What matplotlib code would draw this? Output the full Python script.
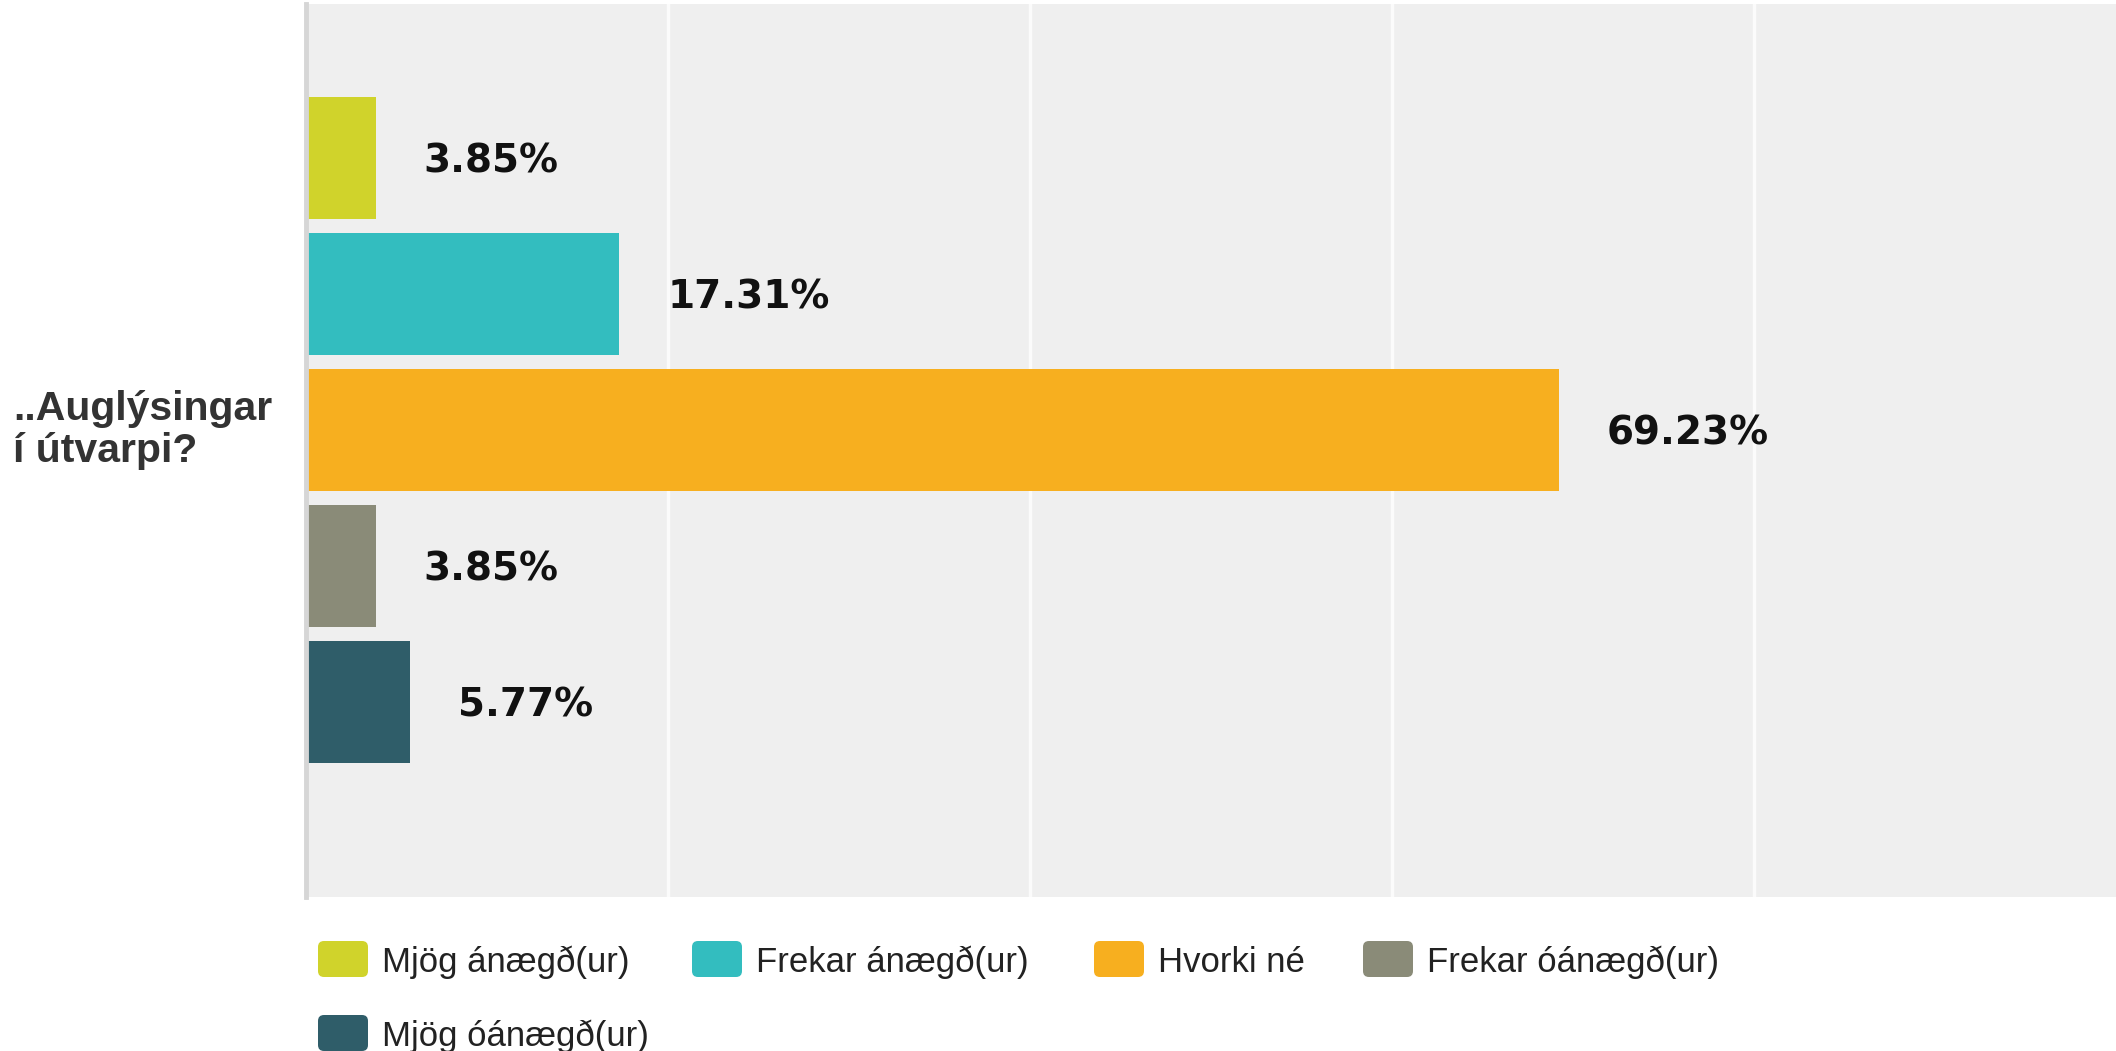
import matplotlib
matplotlib.use("Agg")
import matplotlib.pyplot as plt
from matplotlib.patches import FancyBboxPatch

# ---- data ----
question = "..Auglýsingar\ní útvarpi?"
answers = ["Mjög ánægð(ur)", "Frekar ánægð(ur)", "Hvorki né",
           "Frekar óánægð(ur)", "Mjög óánægð(ur)"]
percent = [3.85, 17.31, 69.23, 3.85, 5.77]
colors = ["#d0d32b", "#33bdbf", "#f7af1f", "#8a8b78", "#2f5d69"]
grid_ticks = [20, 40, 60, 80]

W, H = 2116, 1051
fig = plt.figure(figsize=(W / 100, H / 100), dpi=100)

# plot area (pixel geometry)
ax = fig.add_axes([306 / W, 1 - 897 / H, 1 - 306 / W, (897 - 4) / H])
ax.set_facecolor("#efefef")

pos = list(range(len(answers)))
ax.barh(pos, percent, height=0.9, color=colors, zorder=2)

ax.set_xlim(0, 100)
ax.set_ylim(5.434, -1.132)
ax.set_xticks(grid_ticks)
ax.set_yticks([])
ax.xaxis.grid(True, color="#fbfbfb", linewidth=2.4)
ax.set_axisbelow(True)
ax.tick_params(length=0, labelbottom=False, labelleft=False)
for side in ["top", "right", "bottom"]:
    ax.spines[side].set_visible(False)
ax.spines["left"].set_color("#d6d6d6")
ax.spines["left"].set_linewidth(3.5)

for p, v in zip(pos, percent):
    ax.annotate(f"{v:.2f}%", (v, p), xytext=(34.5, -2.5),
                textcoords="offset points", ha="left", va="center",
                fontsize=28, fontweight="bold", family="DejaVu Sans",
                color="#111111", zorder=3)

# overlay in pixel units for the question label and legend
ov = fig.add_axes([0, 0, 1, 1])
ov.set_xlim(0, W)
ov.set_ylim(H, 0)
ov.axis("off")

ov.text(13, 430, question, ha="left", va="center", fontsize=29.5,
        fontweight="bold", color="#333333", family="Liberation Sans",
        linespacing=1.12)

leg_x = [318, 692, 1094, 1363, 318]
leg_y = [959, 959, 959, 959, 1033]
for name, col, lx, ly in zip(answers, colors, leg_x, leg_y):
    ov.add_patch(FancyBboxPatch((lx, ly - 18), 50, 36,
                                boxstyle="round,pad=0,rounding_size=6",
                                fc=col, ec="none"))
    ov.text(lx + 64, ly + 3, name, ha="left", va="center", fontsize=25,
            color="#222222", family="Liberation Sans")

fig.savefig("out.png", dpi=100)
